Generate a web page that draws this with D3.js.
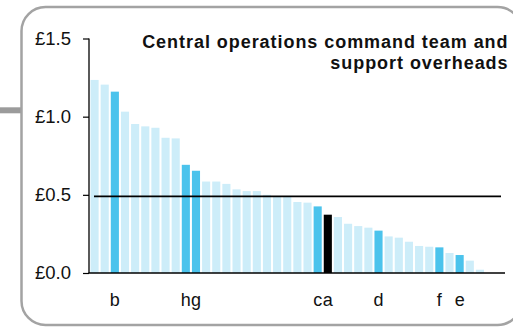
<!DOCTYPE html>
<html>
<head>
<meta charset="utf-8">
<script src="https://cdn.jsdelivr.net/npm/d3@7"></script>
<style>
  html, body { margin: 0; padding: 0; background: #fff; }
  svg { display: block; font-family: "Liberation Sans", Arial, Helvetica, sans-serif; }
</style>
</head>
<body>
<svg id="chart" width="513" height="328"></svg>
<script>
// Cost per unit for each force, sorted high to low.
// Unnamed forces carry a numeric id; named ones carry their letter.
const forces = [
  "01","02","b","04","05","06","07","08","09","h","g","12","13",
  "14","15","16","17","18","19","20","21","22","c","a","25","26",
  "27","28","d","30","31","32","33","34","f","36","e","38","39"
];

const costs = [
  1.235, 1.205, 1.160, 1.032, 0.953, 0.938, 0.929, 0.865, 0.861, 0.692,
  0.654, 0.585, 0.585, 0.570, 0.535, 0.524, 0.524, 0.500, 0.490, 0.490,
  0.454, 0.450, 0.426, 0.373, 0.358, 0.315, 0.300, 0.290, 0.271, 0.234,
  0.226, 0.200, 0.173, 0.168, 0.164, 0.128, 0.115, 0.079, 0.021
];
// Forces that are named below the axis
const comparators = ["b", "h", "g", "c", "d", "f", "e"];
const focus = "a";
// Average across all forces
const average = [0.49];

const yTicks = [0, 0.5, 1.0, 1.5];
const yTickLabels = ["£0.0", "£0.5", "£1.0", "£1.5"];
const titleLines = ["Central operations command team and", "support overheads"];

const svg = d3.select("#chart");

// Rounded panel frame and connector stub
svg.append("line")
  .attr("x1", 0).attr("x2", 21).attr("y1", 110.3).attr("y2", 110.3)
  .attr("stroke", "#9b9b9b").attr("stroke-width", 6);
svg.append("rect")
  .attr("x", 21.5).attr("y", 7).attr("width", 500).attr("height", 318)
  .attr("rx", 24).attr("ry", 24)
  .attr("fill", "#fff").attr("stroke", "#a3a3a3").attr("stroke-width", 2.5);

const x = d3.scaleBand()
  .domain(forces)
  .range([89.5, 485])
  .paddingInner(0.2)
  .paddingOuter(0.1);

const y = d3.scaleLinear().domain([0, 1.5]).range([273, 38.5]);

const colour = f => f === focus ? "#000000"
  : comparators.includes(f) ? "#4bc3ec" : "#cdedf9";

// Bars
svg.append("g").selectAll("rect")
  .data(forces.map((f, i) => ({ f, v: costs[i] })))
  .join("rect")
  .attr("x", d => x(d.f))
  .attr("width", x.bandwidth())
  .attr("y", d => y(d.v))
  .attr("height", d => y(0) - y(d.v))
  .attr("fill", d => colour(d.f));

// Y axis
const yAxis = d3.axisLeft(y)
  .tickValues(yTicks)
  .tickFormat((d, i) => yTickLabels[i])
  .tickSize(6)
  .tickPadding(12);
const ya = svg.append("g").attr("transform", "translate(89,0)").call(yAxis);
ya.select(".domain").remove();
ya.selectAll("line").attr("stroke", "#000").attr("stroke-width", 1.2);
ya.selectAll("text")
  .attr("font-size", 18.5)
  .attr("fill", "#111")
  .attr("font-family", "Liberation Sans, Arial, sans-serif");
svg.append("line")
  .attr("x1", 89).attr("x2", 89).attr("y1", y(1.5)).attr("y2", y(0))
  .attr("stroke", "#000").attr("stroke-width", 1.3);

// Baseline
svg.append("line")
  .attr("x1", 88.5).attr("x2", 505).attr("y1", y(0)).attr("y2", y(0))
  .attr("stroke", "#000").attr("stroke-width", 1.5);

// Category labels for named forces
const labelled = forces.filter(f => comparators.includes(f) || f === focus);
svg.append("g").selectAll("text")
  .data(labelled)
  .join("text")
  .attr("x", f => x(f) + x.bandwidth() / 2)
  .attr("y", 305.5)
  .attr("text-anchor", "middle")
  .attr("font-size", 18)
  .attr("fill", "#111")
  .text(f => f);

// Average line
svg.append("line")
  .attr("x1", 94).attr("x2", 501)
  .attr("y1", y(average[0])).attr("y2", y(average[0]))
  .attr("stroke", "#000").attr("stroke-width", 1.8);

// Title
svg.append("g").selectAll("text")
  .data(titleLines)
  .join("text")
  .attr("x", 508.5)
  .attr("y", (d, i) => 47.5 + i * 21)
  .attr("text-anchor", "end")
  .attr("font-size", 18)
  .attr("font-weight", "bold")
  .attr("letter-spacing", 0.95)
  .attr("fill", "#111")
  .text(d => d);
</script>
</body>
</html>
